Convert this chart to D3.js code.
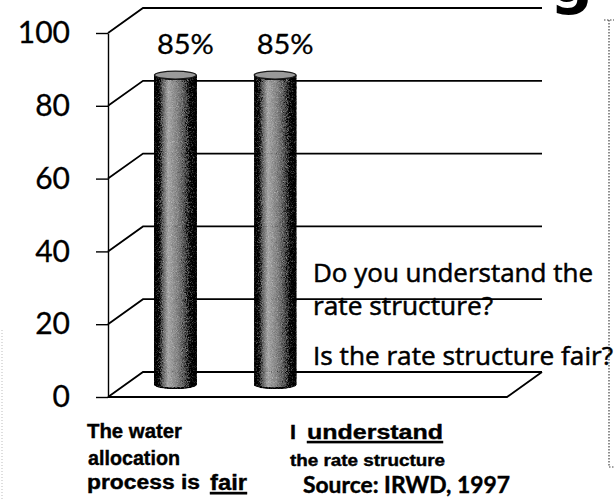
<!DOCTYPE html>
<html>
<head>
<meta charset="utf-8">
<script src="https://cdn.jsdelivr.net/npm/d3@7"></script>
<style>
  html, body { margin: 0; padding: 0; background: #fff; }
  svg { display: block; }
</style>
</head>
<body>
<svg id="chart" width="614" height="499"></svg>
<script>
// Survey results (percent agreeing)
const categories = ["The water allocation process is fair", "I understand the rate structure"];
const values = [85, 85];
const valueLabels = ["85%", "85%"];
const yTicks = [0, 20, 40, 60, 80, 100];
const questions = ["Do you understand the", "rate structure?", "Is the rate structure fair?"];

const svg = d3.select("#chart");

// 3-D frame: front plane plus a receding back wall
const frontLeft = 108, frontRight = 507;
const depthX = 35, depthY = -25;
const slots = 4; // the frame is laid out for four category slots

const y = d3.scaleLinear().domain([0, 100]).range([397, 33]);
const x = d3.scaleBand()
  .domain(categories)
  .range([frontLeft, frontLeft + (frontRight - frontLeft) * categories.length / slots])
  .padding(0);

// defs: cylinder shading and a print-like grain
const defs = svg.append("defs");
const grad = defs.append("linearGradient").attr("id", "cyl").attr("x1", "0").attr("x2", "1").attr("y1", "0").attr("y2", "0");
[[0, "#3a3a3a"], [0.1, "#6e6e6e"], [0.33, "#c2c2c2"], [0.55, "#a8a8a8"], [0.82, "#7a7a7a"], [1, "#3e3e3e"]]
  .forEach(([o, c]) => grad.append("stop").attr("offset", o).attr("stop-color", c));
const grain = defs.append("filter").attr("id", "grain").attr("x", "0").attr("y", "0").attr("width", "1").attr("height", "1");
grain.append("feTurbulence").attr("type", "fractalNoise").attr("baseFrequency", "1.2").attr("numOctaves", 1).attr("seed", 7).attr("result", "n2");
grain.append("feColorMatrix").attr("in", "n2").attr("type", "saturate").attr("values", "0").attr("result", "gray");
grain.append("feComposite").attr("in", "SourceGraphic").attr("in2", "gray").attr("operator", "arithmetic")
  .attr("k1", 0).attr("k2", 1).attr("k3", 0.8).attr("k4", -0.38).attr("result", "mix");
grain.append("feComposite").attr("in", "mix").attr("in2", "SourceGraphic").attr("operator", "in");

// faint page border fragments
svg.append("line").attr("x1", 2).attr("x2", 2).attr("y1", 330).attr("y2", 499)
  .attr("stroke", "#bdbdbd").attr("stroke-width", 1).attr("stroke-dasharray", "1,2");
svg.append("path").attr("d", "M604,20 H614 M609,20 V467 H614")
  .attr("fill", "none").attr("stroke", "#444").attr("stroke-width", 1.2).attr("stroke-dasharray", "1.5,1.5");

// title fragment at the top edge
svg.append("text").attr("x", 550).attr("y", 2)
  .attr("font-family", "DejaVu Sans").attr("font-weight", "bold").attr("font-size", 60)
  .attr("fill", "#000").text("g");

// back-wall gridlines with their receding floor/wall edges
const grid = svg.append("g").attr("fill", "none").attr("stroke", "#000").attr("stroke-width", 1.8);
yTicks.forEach(t => {
  const yf = y(t), yb = y(t) + depthY;
  grid.append("path").attr("d", `M${frontLeft},${yf} L${frontLeft + depthX},${yb} L${frontRight + depthX},${yb}`);
});
// floor front edge and right edge
grid.append("path").attr("d", `M${frontLeft},${y(0)} L${frontRight},${y(0)} L${frontRight + depthX},${y(0) + depthY}`);

// y axis
const yAxis = d3.axisLeft(y).tickValues(yTicks).tickSize(12).tickSizeOuter(0).tickPadding(26);
const ax = svg.append("g").attr("transform", `translate(${frontLeft},0)`).call(yAxis);
ax.select(".domain").attr("stroke", "#000").attr("stroke-width", 1.4);
ax.selectAll(".tick line").attr("stroke", "#000").attr("stroke-width", 1.4);
ax.selectAll(".tick text").attr("font-family", "Lato").attr("font-size", 30).attr("fill", "#000")
  .attr("stroke", "#000").attr("stroke-width", 0.3);

// cylinder bars, set halfway into the depth
const barW = x.bandwidth() * 0.42;
const ry = 4;
const bars = svg.append("g").selectAll("g.bar").data(categories.map((c, i) => ({c, v: values[i], label: valueLabels[i]})))
  .join("g").attr("class", "bar");

bars.each(function(d) {
  const g = d3.select(this);
  const cx = x(d.c) + x.bandwidth() / 2 + depthX / 2;
  const yTop = y(d.v) + depthY / 2;
  const yBot = y(0) + depthY / 2;
  const x0 = cx - barW / 2, x1 = cx + barW / 2;
  g.append("path")
    .attr("d", `M${x0},${yTop} L${x0},${yBot} A${barW / 2},${ry} 0 0 0 ${x1},${yBot} L${x1},${yTop} A${barW / 2},${ry} 0 0 1 ${x0},${yTop} Z`)
    .attr("fill", "url(#cyl)").attr("stroke", "#1a1a1a").attr("stroke-width", 1.3).attr("filter", "url(#grain)");
  g.append("ellipse").attr("cx", cx).attr("cy", yTop).attr("rx", barW / 2).attr("ry", ry)
    .attr("fill", "#9a9a9a").attr("stroke", "#1a1a1a").attr("stroke-width", 1.3);
  g.append("text").attr("x", cx + 10).attr("y", yTop - 21).attr("text-anchor", "middle")
    .attr("font-family", "Lato").attr("font-size", 27).attr("fill", "#000")
    .attr("stroke", "#000").attr("stroke-width", 0.3)
    .attr("textLength", 57).attr("lengthAdjust", "spacingAndGlyphs").text(d.label);
});

// question annotations
const q = svg.append("g").attr("font-family", "Open Sans").attr("font-size", 25).attr("fill", "#000")
  .attr("stroke", "#000").attr("stroke-width", 0.5);
q.append("text").attr("x", 313).attr("y", 282).attr("textLength", 280).attr("lengthAdjust", "spacingAndGlyphs").text(questions[0]);
q.append("text").attr("x", 313).attr("y", 315).attr("textLength", 180).attr("lengthAdjust", "spacingAndGlyphs").text(questions[1]);
q.append("text").attr("x", 313).attr("y", 365).attr("textLength", 300).attr("lengthAdjust", "spacingAndGlyphs").text(questions[2]);

// category captions under the floor
const cap = svg.append("g").attr("fill", "#000").attr("stroke", "#000").attr("stroke-width", 0.4);
const bold = "Liberation Sans";
function caption(t, xPos, yPos, size, width, family) {
  return cap.append("text").attr("x", xPos).attr("y", yPos)
    .attr("font-family", family || bold).attr("font-weight", "bold").attr("font-size", size)
    .attr("textLength", width).attr("lengthAdjust", "spacingAndGlyphs").text(t);
}
caption("The water", 87, 438, 20, 95);
caption("allocation", 88, 465, 20, 92);
caption("process is", 87, 489, 20, 113);
caption("fair", 210, 490, 22, 37).attr("text-decoration", "underline");

caption("I", 290, 439, 21, 6);
caption("understand", 307, 439, 21, 136).attr("text-decoration", "underline");
caption("the rate structure", 290, 466, 16, 155);
caption("Source: IRWD, 1997", 303, 493, 22, 207, "Lato");
</script>
</body>
</html>
